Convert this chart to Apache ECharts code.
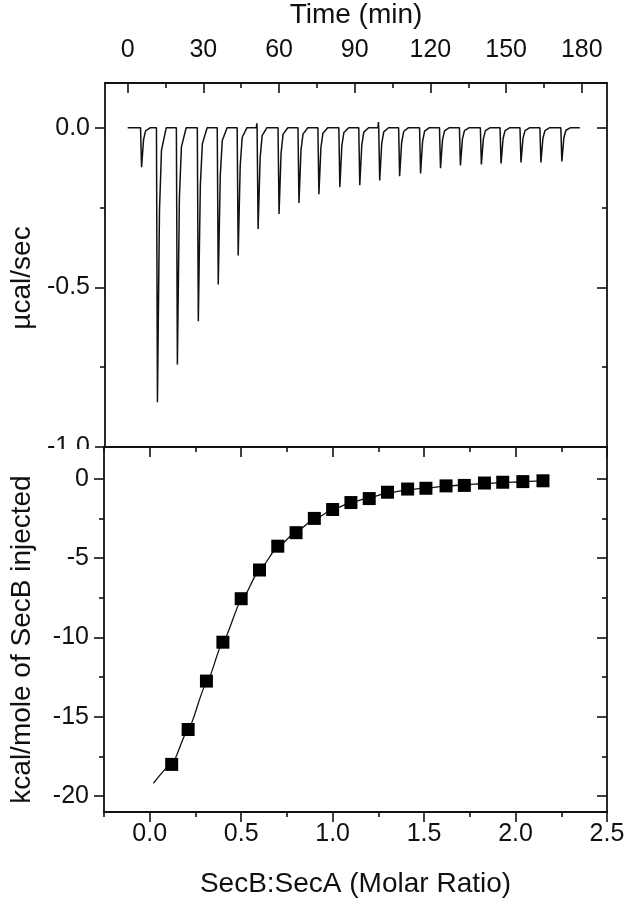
<!DOCTYPE html>
<html>
<head>
<meta charset="utf-8">
<script src="https://cdn.jsdelivr.net/npm/echarts@6/dist/echarts.min.js"></script>
<style>
  html, body { margin: 0; padding: 0; background: #fff; }
  #chart { width: 630px; height: 899px; }
</style>
</head>
<body>
<div id="chart"></div>
<script>
  // raw thermogram trace, time (min) vs power (µcal/sec)
  const thermogram = [
    [0, 0],
    [5.1, 0], [5.5, -0.124], [6.3, -0.037], [7.1, -0.01], [9.0, 0],
    [11.4, 0], [11.8, -0.86], [12.6, -0.26], [13.4, -0.07], [15.3, 0],
    [19.3, 0], [19.7, -0.742], [20.5, -0.22], [21.3, -0.06], [23.2, 0],
    [27.6, 0], [28.0, -0.606], [28.8, -0.18], [29.6, -0.05], [31.5, 0],
    [35.5, 0], [35.9, -0.491], [36.7, -0.15], [37.5, -0.04], [39.4, 0],
    [43.4, 0], [43.8, -0.4], [44.6, -0.12], [45.4, -0.03], [47.3, 0],
    [51.0, 0], [51.2, 0.014], [51.3, 0], [51.7, -0.317], [52.5, -0.095], [53.3, -0.025], [55.2, 0],
    [59.6, 0], [60.0, -0.27], [60.8, -0.08], [61.6, -0.02], [63.5, 0],
    [67.5, 0], [67.9, -0.236], [68.7, -0.07], [69.5, -0.02], [71.4, 0],
    [75.4, 0], [75.8, -0.208], [76.6, -0.062], [77.4, -0.017], [79.3, 0],
    [83.7, 0], [84.1, -0.186], [84.9, -0.056], [85.7, -0.015], [87.6, 0],
    [91.6, 0], [92.0, -0.18], [92.8, -0.054], [93.6, -0.014], [95.5, 0],
    [99.2, 0], [99.4, 0.018], [99.5, 0], [99.9, -0.165], [100.7, -0.05], [101.5, -0.013], [103.4, 0],
    [107.4, 0], [107.8, -0.152], [108.6, -0.046], [109.4, -0.012], [111.3, 0],
    [115.7, 0], [116.1, -0.143], [116.9, -0.043], [117.7, -0.011], [119.6, 0],
    [123.6, 0], [124.0, -0.127], [124.8, -0.038], [125.6, -0.01], [127.5, 0],
    [131.5, 0], [131.9, -0.118], [132.7, -0.035], [133.5, -0.009], [135.4, 0],
    [139.8, 0], [140.2, -0.115], [141.0, -0.035], [141.8, -0.009], [143.7, 0],
    [147.6, 0], [148.0, -0.112], [148.8, -0.034], [149.6, -0.009], [151.5, 0],
    [155.5, 0], [155.9, -0.109], [156.7, -0.033], [157.5, -0.009], [159.4, 0],
    [163.4, 0], [163.8, -0.109], [164.6, -0.033], [165.4, -0.009], [167.3, 0],
    [171.7, 0], [172.1, -0.106], [172.9, -0.032], [173.7, -0.008], [175.6, 0],
    [179.2, 0],
  ];

  // integrated heats per injection
  const molarRatio = [0.12, 0.21, 0.31, 0.40, 0.50, 0.60, 0.70, 0.80, 0.90, 1.00, 1.10,
    1.20, 1.30, 1.41, 1.51, 1.62, 1.72, 1.83, 1.93, 2.04, 2.15];
  const heat = [-18.0, -15.8, -12.75, -10.3, -7.56, -5.75, -4.25, -3.4, -2.5, -1.94, -1.5,
    -1.25, -0.85, -0.65, -0.6, -0.45, -0.42, -0.27, -0.22, -0.18, -0.13];

  // fitted binding curve
  const fitX = [0.02, 0.12, 0.21, 0.31, 0.40, 0.50, 0.60, 0.70, 0.80, 0.90, 1.00, 1.10,
    1.20, 1.30, 1.41, 1.51, 1.62, 1.72, 1.83, 1.93, 2.04, 2.15];
  const fitY = [-19.2, -18.0, -15.8, -12.9, -10.3, -7.7, -5.75, -4.3, -3.35, -2.55, -1.95, -1.5,
    -1.2, -0.9, -0.7, -0.58, -0.47, -0.38, -0.3, -0.24, -0.19, -0.14];

  const timeTicks = [0, 30, 60, 90, 120, 150, 180];
  const timeMinor = [15, 45, 75, 105, 135, 165];
  const powerTicks = [-1.0, -0.5, 0.0];
  const powerMinor = [-0.75, -0.25];
  const ratioTicks = [0, 0.5, 1.0, 1.5, 2.0, 2.5];
  const ratioMinor = [-0.25, 0.25, 0.75, 1.25, 1.75, 2.25];
  const heatTicks = [-20, -15, -10, -5, 0];
  const heatMinor = [-17.5, -12.5, -7.5, -2.5];

  const FONT = "'Liberation Sans', Arial, sans-serif";
  const INK = "#111";

  const TIME_RANGE = [-9, 190];
  const POWER_RANGE = [-1.0, 0.14];
  const RATIO_RANGE = [-0.25, 2.5];
  const HEAT_RANGE = [-21, 2];

  // one axis side: either a framed line with major ticks, or a bare minor-tick layer
  function side(opts) {
    const minor = opts.minor;
    return {
      type: "value",
      gridIndex: opts.grid,
      position: opts.position,
      min: opts.range[0],
      max: opts.range[1],
      scale: true,
      splitLine: { show: false },
      axisLine: { show: !minor, onZero: false, lineStyle: { color: INK, width: 1.8 } },
      axisTick: {
        show: !!opts.ticks,
        inside: !!opts.inside,
        length: minor ? 5 : 10,
        customValues: opts.ticks || [],
        lineStyle: { color: INK, width: 1.6 },
      },
      axisLabel: opts.labels
        ? {
            show: true,
            customValues: opts.ticks,
            margin: opts.margin,
            color: INK,
            fontFamily: FONT,
            fontSize: 25,
            formatter: opts.formatter,
          }
        : { show: false },
      name: opts.name || "",
      nameLocation: "middle",
      nameGap: opts.nameGap,
      nameTextStyle: Object.assign(
        { color: INK, fontFamily: FONT, fontSize: 28 },
        opts.namePadding ? { padding: opts.namePadding } : {}
      ),
      z: minor ? 3 : 4,
    };
  }

  const chart = echarts.init(document.getElementById("chart"), null, { renderer: "canvas" });

  const option = {
    backgroundColor: "#fff",
    animation: false,
    grid: [
      { left: 103, right: 23, top: 82, height: 365 },
      { left: 103, right: 23, top: 447, height: 366 },
    ],
    xAxis: [
      side({ grid: 0, position: "top", range: TIME_RANGE, ticks: timeTicks, inside: true,
        labels: true, margin: 20, name: "Time (min)", nameGap: 54 }),
      side({ grid: 0, position: "top", range: TIME_RANGE, ticks: timeMinor, inside: true, minor: true }),
      side({ grid: 0, position: "bottom", range: TIME_RANGE }),
      side({ grid: 1, position: "bottom", range: RATIO_RANGE, ticks: ratioTicks,
        labels: true, margin: 10, formatter: (v) => v.toFixed(1),
        name: "SecB:SecA (Molar Ratio)", nameGap: 58 }),
      side({ grid: 1, position: "bottom", range: RATIO_RANGE, ticks: ratioMinor, minor: true }),
      side({ grid: 1, position: "top", range: RATIO_RANGE, ticks: ratioTicks, inside: true }),
      side({ grid: 1, position: "top", range: RATIO_RANGE, ticks: ratioMinor, inside: true, minor: true }),
    ],
    yAxis: [
      side({ grid: 0, position: "left", range: POWER_RANGE, ticks: powerTicks,
        labels: true, margin: 15, formatter: (v) => v.toFixed(1),
        name: "µcal/sec", nameGap: 68, namePadding: [0, 26, 0, 0] }),
      side({ grid: 0, position: "left", range: POWER_RANGE, ticks: powerMinor, minor: true }),
      side({ grid: 0, position: "right", range: POWER_RANGE, ticks: powerTicks, inside: true }),
      side({ grid: 0, position: "right", range: POWER_RANGE, ticks: powerMinor, inside: true, minor: true }),
      side({ grid: 1, position: "left", range: HEAT_RANGE, ticks: heatTicks,
        labels: true, margin: 15, formatter: (v) => String(v),
        name: "kcal/mole of SecB injected", nameGap: 68, namePadding: [0, 20, 0, 0] }),
      side({ grid: 1, position: "left", range: HEAT_RANGE, ticks: heatMinor, minor: true }),
      side({ grid: 1, position: "right", range: HEAT_RANGE, ticks: heatTicks, inside: true }),
      side({ grid: 1, position: "right", range: HEAT_RANGE, ticks: heatMinor, inside: true, minor: true }),
    ],
    series: [
      {
        type: "line",
        xAxisIndex: 0,
        yAxisIndex: 0,
        data: thermogram,
        showSymbol: false,
        lineStyle: { color: INK, width: 1.5 },
      },
      {
        type: "line",
        xAxisIndex: 3,
        yAxisIndex: 4,
        data: fitX.map((x, i) => [x, fitY[i]]),
        smooth: 0.2,
        smoothMonotone: "x",
        showSymbol: false,
        lineStyle: { color: INK, width: 1.3 },
      },
      {
        type: "scatter",
        xAxisIndex: 3,
        yAxisIndex: 4,
        data: molarRatio.map((x, i) => [x, heat[i]]),
        symbol: "rect",
        symbolSize: 13,
        itemStyle: { color: "#000", opacity: 1 },
        z: 5,
      },
    ],
    // the bottom panel hides the lower half of the "-1.0" label, as in the original layout
    graphic: [
      {
        type: "rect",
        shape: { x: 40, y: 449, width: 61, height: 13 },
        style: { fill: "#fff" },
        z: 100,
      },
    ],
  };

  chart.setOption(option);
</script>
</body>
</html>
